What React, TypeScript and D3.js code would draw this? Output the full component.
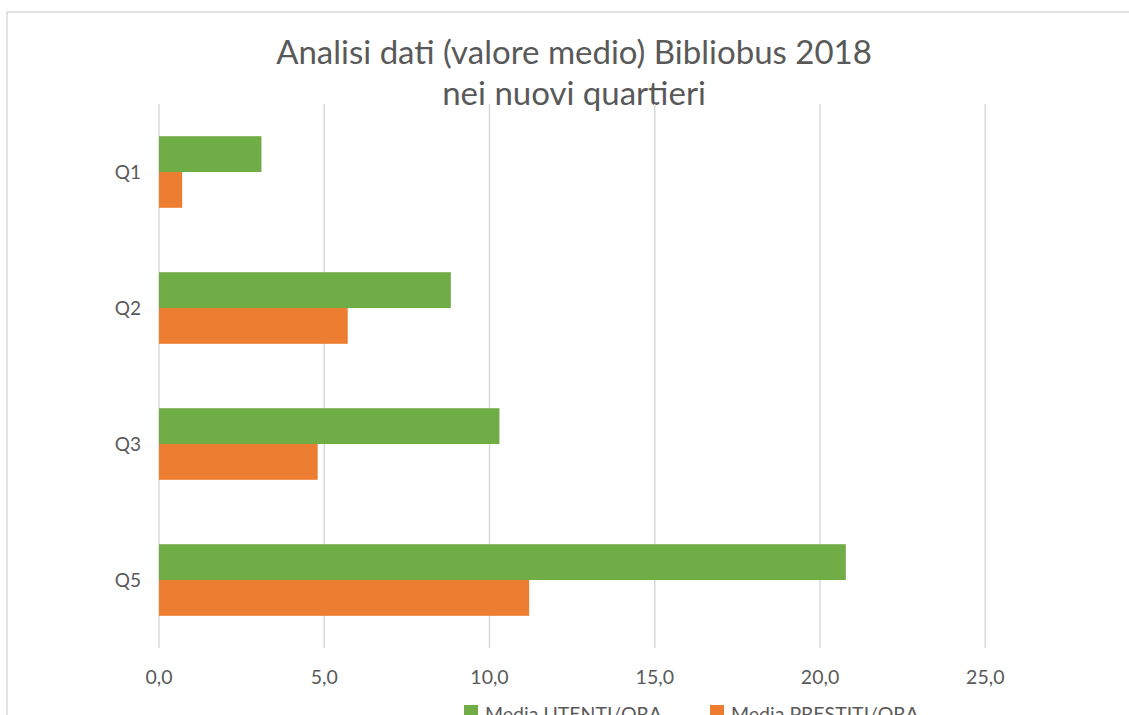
import React from "react";
import * as d3 from "d3";

const categories = ["Q1", "Q2", "Q3", "Q5"];
const utenti = [3.1, 8.83, 10.3, 20.78];
const prestiti = [0.7, 5.71, 4.8, 11.2];
const seriesNames = ["Media UTENTI/ORA", "Media PRESTITI/ORA"];
const colors = ["#70AD47", "#ED7D31"];
const xTicks = [0, 5, 10, 15, 20, 25];
const titleLines = ["Analisi dati (valore medio) Bibliobus 2018", "nei nuovi quartieri"];

const W = 1129;
const H = 715;
const FONT = "Lato, 'Open Sans', sans-serif";

export default function App() {
  const x = d3.scaleLinear().domain([0, 25]).range([159, 985.3]);
  const y = d3.scaleBand<string>().domain(categories).range([104, 648]).paddingInner(0.4735).paddingOuter(0.4735 / 2);
  const inner = d3.scaleBand<number>().domain([0, 1]).range([0, y.bandwidth()]);
  const series = [utenti, prestiti];
  const fmt = (v: number) => v.toFixed(1).replace(".", ",");

  return (
    <svg width={W} height={H} style={{ position: "absolute", left: 0, top: 0, background: "#fff" }} fontFamily={FONT}>
      <rect x={7} y={12} width={W + 20} height={H + 20} fill="#fff" stroke="#d9d9d9" strokeWidth={1.5} />
      {titleLines.map((t, i) => (
        <text key={i} x={574} y={64 + i * 41} textAnchor="middle" fontSize={33} fill="#595959">
          {t}
        </text>
      ))}
      {xTicks.map((t) => (
        <g key={t}>
          <line x1={x(t)} x2={x(t)} y1={104} y2={648} stroke="#d9d9d9" strokeWidth={1.5} />
          <text x={x(t)} y={684} textAnchor="middle" fontSize={19.5} fill="#595959">
            {fmt(t)}
          </text>
        </g>
      ))}
      {categories.map((c, ci) => (
        <g key={c}>
          {series.map((s, si) => (
            <rect
              key={si}
              x={x(0)}
              y={(y(c) as number) + (inner(si) as number)}
              width={x(s[ci]) - x(0)}
              height={inner.bandwidth()}
              fill={colors[si]}
            />
          ))}
          <text x={141} y={(y(c) as number) + y.bandwidth() / 2 + 7} textAnchor="end" fontSize={19} fill="#595959">
            {c}
          </text>
        </g>
      ))}
      {seriesNames.map((n, i) => (
        <g key={n} transform={`translate(${[464, 710][i]},0)`}>
          <rect x={0} y={705} width={14} height={14} fill={colors[i]} />
          <text x={21} y={721} fontSize={19.5} fill="#595959">
            {n}
          </text>
        </g>
      ))}
    </svg>
  );
}
